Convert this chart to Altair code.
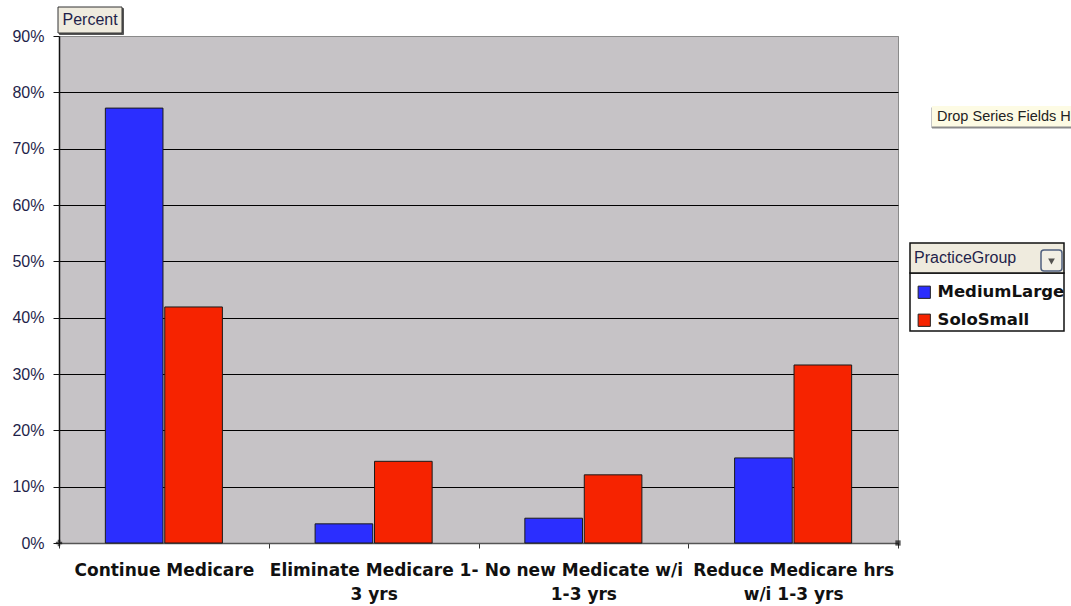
import altair as alt
import pandas as pd

# Survey answers per practice group (share of respondents)
CATEGORIES = [
    "Continue Medicare",
    "Eliminate Medicare 1-3 yrs",
    "No new Medicate w/i 1-3 yrs",
    "Reduce Medicare hrs w/i 1-3 yrs",
]
LABEL_LINES = [
    ["Continue Medicare"],
    ["Eliminate Medicare 1-", "3 yrs"],
    ["No new Medicate w/i", "1-3 yrs"],
    ["Reduce Medicare hrs", "w/i 1-3 yrs"],
]
GROUPS = ["MediumLarge", "SoloSmall"]
MEDIUM_LARGE = [0.772, 0.034, 0.044, 0.151]
SOLO_SMALL = [0.419, 0.145, 0.121, 0.316]
COLORS = ["#2B2EFF", "#F62300"]
Y_TICKS = [0.0, 0.1, 0.2, 0.3, 0.4, 0.5, 0.6, 0.7, 0.8, 0.9]

W, H = 839, 507
UI_FONT = "Liberation Sans"
BOLD_FONT = "DejaVu Sans"
NAVY = "#1F1F4A"

rows = []
for cat, a, b in zip(CATEGORIES, MEDIUM_LARGE, SOLO_SMALL):
    rows.append({"category": cat, "group": GROUPS[0], "value": a})
    rows.append({"category": cat, "group": GROUPS[1], "value": b})
df = pd.DataFrame(rows)

# multi-line category labels
label_expr = "datum.label"
for cat, lines in reversed(list(zip(CATEGORIES, LABEL_LINES))):
    arr = "[" + ", ".join("'" + s + "'" for s in lines) + "]"
    label_expr = f"datum.value == '{cat}' ? {arr} : ({label_expr})"

bars = alt.Chart(df).mark_bar(stroke="#1A1A1A", strokeWidth=1).encode(
    x=alt.X(
        "category:N",
        sort=CATEGORIES,
        title=None,
        scale=alt.Scale(paddingInner=0, paddingOuter=0),
        axis=alt.Axis(
            labelAngle=0,
            labelExpr=label_expr,
            labelFont=BOLD_FONT,
            labelFontWeight="bold",
            labelFontSize=17,
            labelColor="#111111",
            labelLineHeight=24,
            labelPadding=14,
            labelBaseline="top",
            labelLimit=260,
            tickBand="extent",
            tickSize=5,
            tickColor="#333333",
            domainColor="#555555",
            domainWidth=1.5,
            grid=False,
        ),
    ),
    xOffset=alt.XOffset(
        "group:N", sort=GROUPS, scale=alt.Scale(paddingInner=0.03, paddingOuter=0.78)
    ),
    y=alt.Y(
        "value:Q",
        title=None,
        scale=alt.Scale(domain=[0, 0.9], nice=False, zero=True),
        axis=alt.Axis(
            values=Y_TICKS,
            format=".0%",
            labelFont=UI_FONT,
            labelFontSize=16,
            labelColor=NAVY,
            labelPadding=9,
            tickSize=6,
            tickColor="#111111",
            domainColor="#111111",
            domainWidth=1.5,
            grid=True,
            gridColor={"condition": {"test": "datum.value >= 0.9", "value": "#8A8A8A"}, "value": "#000000"},
            gridWidth=1.2,
            gridOpacity=1,
        ),
    ),
    color=alt.Color(
        "group:N",
        sort=GROUPS,
        scale=alt.Scale(domain=GROUPS, range=COLORS),
        legend=alt.Legend(
            title=None,
            orient="none",
            legendX=857,
            legendY=248,
            padding=0,
            symbolType="square",
            symbolSize=150,
            symbolStrokeColor="#222222",
            symbolStrokeWidth=1,
            symbolOpacity=1,
            labelFont=BOLD_FONT,
            labelFontWeight="bold",
            labelFontSize=16.5,
            labelColor="#111111",
            labelOffset=5,
            rowPadding=11,
            labelLimit=200,
        ),
    ),
)


def one_row(**kw):
    return alt.Data(values=[kw if kw else {"k": 0}])


def box(x1, y1, x2, y2, fill, stroke, sw=1.0, radius=0):
    return alt.Chart(one_row()).mark_rect(
        fill=fill, stroke=stroke, strokeWidth=sw, cornerRadius=radius
    ).encode(
        x=alt.value(x1), x2=alt.value(x2), y=alt.value(y1), y2=alt.value(y2)
    )


def label(text, x, y, size, color, font=UI_FONT, weight="normal"):
    return alt.Chart(one_row(t=text)).mark_text(
        align="left", baseline="middle", font=font, fontSize=size,
        fontWeight=weight, color=color
    ).encode(x=alt.value(x), y=alt.value(y), text="t:N")


# field buttons and legend frame (positions relative to the plot area)
percent_shadow = box(0.5, -27.5, 64.5, -1.5, "#555555", "#555555")
percent_box = box(-1, -29, 63, -3, "#EFEBDE", "#333333", 1)
percent_text = label("Percent", 3.5, -16, 16, NAVY)

drop_shadow = box(873, 71.5, 1030, 92, "#8A8A8A", "#8A8A8A")
drop_box = box(873, 70, 1030, 90.5, "#FDFBE4", "#FDFBE4", 0)
drop_text = label("Drop Series Fields H", 878, 80.5, 14.5, "#222222")

legend_body = box(851, 237, 1005, 295, "#FFFFFF", "#111111", 1.5)
legend_head = box(851, 207, 1005, 237, "#EFEBDE", "#111111", 1.5)
legend_title = label("PracticeGroup", 855, 222, 16, NAVY)
drop_btn = box(982, 214, 1003, 235, "#F2EFE4", "#50607F", 1.5, 3)
drop_arrow = alt.Chart(one_row()).mark_point(
    shape="triangle-down", filled=True, color="#111111", size=45
).encode(x=alt.value(992.5), y=alt.value(225.5))

# plot-area corner handles
corner_l = alt.Chart(one_row()).mark_point(
    shape="cross", filled=True, color="#111111", size=40
).encode(x=alt.value(0), y=alt.value(H))
corner_r = alt.Chart(one_row()).mark_point(
    shape="square", filled=True, color="#111111", size=28
).encode(x=alt.value(W), y=alt.value(H))

chart = alt.layer(
    bars,
    percent_shadow, percent_box, percent_text,
    drop_shadow, drop_box, drop_text,
    legend_body, legend_head, legend_title, drop_btn, drop_arrow,
    corner_l, corner_r,
).properties(
    width=W,
    height=H,
    autosize=alt.AutoSizeParams(type="none"),
    padding={"left": 59, "top": 36, "right": 173, "bottom": 63},
    background="#FFFFFF",
).configure_view(
    fill="#C6C3C6", stroke="#8A8A8A", strokeWidth=1
)

chart.save("out.html", embed_options={"renderer": "svg", "actions": False})
